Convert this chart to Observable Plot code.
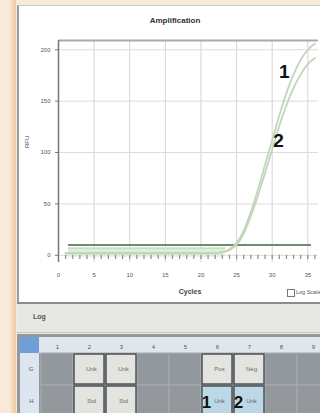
<!DOCTYPE html>
<html>
<head>
<meta charset="utf-8">
<script src="https://cdn.jsdelivr.net/npm/d3@7"></script>
<script src="https://cdn.jsdelivr.net/npm/@observablehq/plot@0.6"></script>
<style>
  html, body { margin: 0; padding: 0; }
  body { width: 320px; height: 413px; overflow: hidden; position: relative; background: #f8eadb; font-family: Arial, "Liberation Sans", sans-serif; }
  .abs { position: absolute; }
  #strip { left: 10px; top: 0; width: 6px; height: 413px; background: linear-gradient(to right, #f8e6d0, #eec9a0); }
  #panel { left: 17px; top: 5px; width: 303px; height: 297px; background: #ffffff; border-left: 2px solid #9c9c9c; border-top: 1px solid #c8c8c8; box-sizing: border-box; }
  #chart { left: 20px; top: 0px; }
  #title { left: 20px; width: 310px; top: 16px; text-align: center; font-size: 8px; font-weight: bold; color: #333; }
  #ylab { left: 24px; top: 148px; font-size: 6px; color: #444; transform: rotate(-90deg); transform-origin: left top; }
  #xlab { left: 170px; width: 40px; top: 288px; text-align: center; font-size: 7px; font-weight: bold; color: #444; }
  #chk { left: 287px; top: 289px; width: 6px; height: 6px; border: 1px solid #777; background: #fff; }
  #chklab { left: 296px; top: 289px; font-size: 5.5px; color: #555; white-space: nowrap; }
  #bar { left: 17px; top: 302px; width: 303px; height: 31px; background: #e7e7e3; border-top: 2px solid #8c8c8c; border-bottom: 1px solid #c4c4c0; box-sizing: border-box; }
  #barlab { left: 33px; top: 313px; font-size: 7px; font-weight: bold; color: #555; }
  #plateBg { left: 17px; top: 334px; width: 303px; height: 79px; background: #93989d; }
  #hdr { left: 20px; top: 337px; width: 300px; height: 16px; background: #dfe7ed; }
  #corner { left: 20px; top: 337px; width: 19px; height: 16px; background: #6f9fd8; }
  #rowhdr { left: 20px; top: 353px; width: 19px; height: 60px; background: #dde6f0; }
  #plate { left: 20px; top: 336px; }
</style>
</head>
<body>
<script>
// ---- Amplification data ----
const cycles = [1,2,3,4,5,6,7,8,9,10,11,12,13,14,15,16,17,18,19,20,21,22,23,24,25,26,27,28,29,30,31,32,33,34,35,36];
const curve1 = [2,2,2,2,2,2,2,2,2,2,2,2,2,2,2,2,2,2,2,2,2,2,3,6,12,24,42,64,88,112,136,158,176,190,200,206];
const curve2 = [2,2,2,2,2,2,2,2,2,2,2,2,2,2,2,2,2,2,2,2,2,2,3,5,10,21,38,58,80,103,126,146,163,176,186,192];
const bandCycles = [1.4,5,10,15,20,23.4];
const bandLow = [-2,-2,-2,-2,-2,-2];
const bandHigh = [7,7,7,7,7,7];
const threshold = 10;
const thresholdFrom = 1.4;
const thresholdTo = 35.5;
const xTicks = [0,5,10,15,20,25,30,35];
const yTicks = [0,50,100,150,200];
const labelText = ["1","2"];
const labelCycle = [31.7,30.9];
const labelRFU = [178,111];

// ---- Plate data ----
const plateCols = ["1","2","3","4","5","6","7","8","9"];
const plateRows = ["G","H"];
const wellCol = ["2","3","2","3","6","7","6","7"];
const wellRow = ["G","G","H","H","G","G","H","H"];
const wellType = ["Unk","Unk","Std","Std","Pos","Neg","Unk","Unk"];
const wellSel = [false,false,false,false,false,false,true,true];
const wellMark = ["","","","","","","1","2"];

const add = (id, cls, text) => { const d = document.createElement("div"); d.id = id; d.className = cls; if (text) d.textContent = text; document.body.appendChild(d); return d; };
add("strip","abs"); add("panel","abs");

const curves = [];
cycles.forEach((c,i) => { curves.push({series:"1", cycle:c, rfu:curve1[i]}); curves.push({series:"2", cycle:c, rfu:curve2[i]}); });
const band = bandCycles.map((c,i) => ({cycle:c, lo:bandLow[i], hi:bandHigh[i]}));
const labels = labelText.map((t,i) => ({t, cycle:labelCycle[i], rfu:labelRFU[i]}));

const chart = Plot.plot({
  width: 300, height: 300,
  marginLeft: 38, marginRight: 2, marginTop: 40, marginBottom: 38,
  x: {domain: [0, 36.5]},
  y: {domain: [-7, 209]},
  style: {background: "transparent", fontFamily: "Arial, sans-serif"},
  marks: [
    Plot.gridX(xTicks, {stroke: "#d4d4d4", strokeOpacity: 1}),
    Plot.gridY(yTicks, {stroke: "#dcdcdc", strokeOpacity: 1}),
    Plot.ruleY([209], {stroke: "#a8aaa8", strokeWidth: 2}),
    Plot.areaY(band, {x: "cycle", y1: "lo", y2: "hi", fill: "#dcefd9"}),
    Plot.lineY(band, {x: "cycle", y: "hi", stroke: "#b6d3b0", strokeWidth: 1}),
    Plot.ruleX(cycles, {y1: -4, y2: 0, stroke: "#8a8a8a", strokeWidth: 1.2}),
    Plot.ruleY([threshold], {x1: thresholdFrom, x2: thresholdTo, stroke: "#6e8a70", strokeWidth: 2}),
    Plot.line(curves, {x: "cycle", y: "rfu", z: "series", stroke: "#c3d5bb", strokeWidth: 1.8, curve: "monotone-x"}),
    Plot.text(labels, {x: "cycle", y: "rfu", text: "t", fontSize: 19, fontWeight: "bold", fill: "#111"}),
    Plot.ruleX([0], {stroke: "#777", strokeWidth: 1.5}),
    Plot.axisX(xTicks, {tickSize: 0, tickPadding: 10, fontSize: 6, fill: "#555", label: null}),
    Plot.axisY(yTicks, {tickSize: 3, tickPadding: 5, fontSize: 6, fill: "#555", stroke: "#777", label: null})
  ]
});
const cw = add("chart","abs"); cw.appendChild(chart);

add("title","abs","Amplification");
add("ylab","abs","RFU");
add("xlab","abs","Cycles");
add("chk","abs");
add("chklab","abs","Log Scale");
add("bar","abs");
add("barlab","abs","Log");
add("plateBg","abs"); add("hdr","abs"); add("corner","abs"); add("rowhdr","abs");

const allWells = d3.cross(plateCols, plateRows).map(([c,r]) => ({c, r}));
const wells = wellCol.map((c,i) => ({c, r: wellRow[i], type: wellType[i], sel: wellSel[i], mark: wellMark[i]}));

const plate = Plot.plot({
  width: 300, height: 77,
  marginLeft: 19, marginRight: 0, marginTop: 17, marginBottom: 0,
  x: {type: "band", domain: plateCols, range: [19, 310], padding: 0},
  y: {type: "band", domain: plateRows, range: [17, 81], padding: 0},
  style: {background: "transparent", fontFamily: "Arial, sans-serif"},
  marks: [
    Plot.cell(allWells, {x: "c", y: "r", fill: "#93989d", stroke: "#a7abaf", strokeWidth: 1}),
    Plot.cell(wells, {x: "c", y: "r", fill: d => d.sel ? "#bcd8e7" : "#e3e3df", stroke: "#4e5458", strokeWidth: 1.5, inset: 1}),
    Plot.text(wells, {x: "c", y: "r", text: "type", fontSize: 6, fill: "#6a6a6a", dx: 2}),
    Plot.text(wells.filter(d => d.mark), {x: "c", y: "r", text: "mark", fontSize: 17, fontWeight: "bold", fill: "#111", dx: -11, dy: 1}),
    Plot.axisX({anchor: "top", tickSize: 0, tickPadding: 5, fontSize: 6, fill: "#555", label: null}),
    Plot.axisY({anchor: "left", tickSize: 0, tickPadding: 6, fontSize: 6, fill: "#555", label: null})
  ]
});
const pw = add("plate","abs"); pw.appendChild(plate);
</script>
</body>
</html>
